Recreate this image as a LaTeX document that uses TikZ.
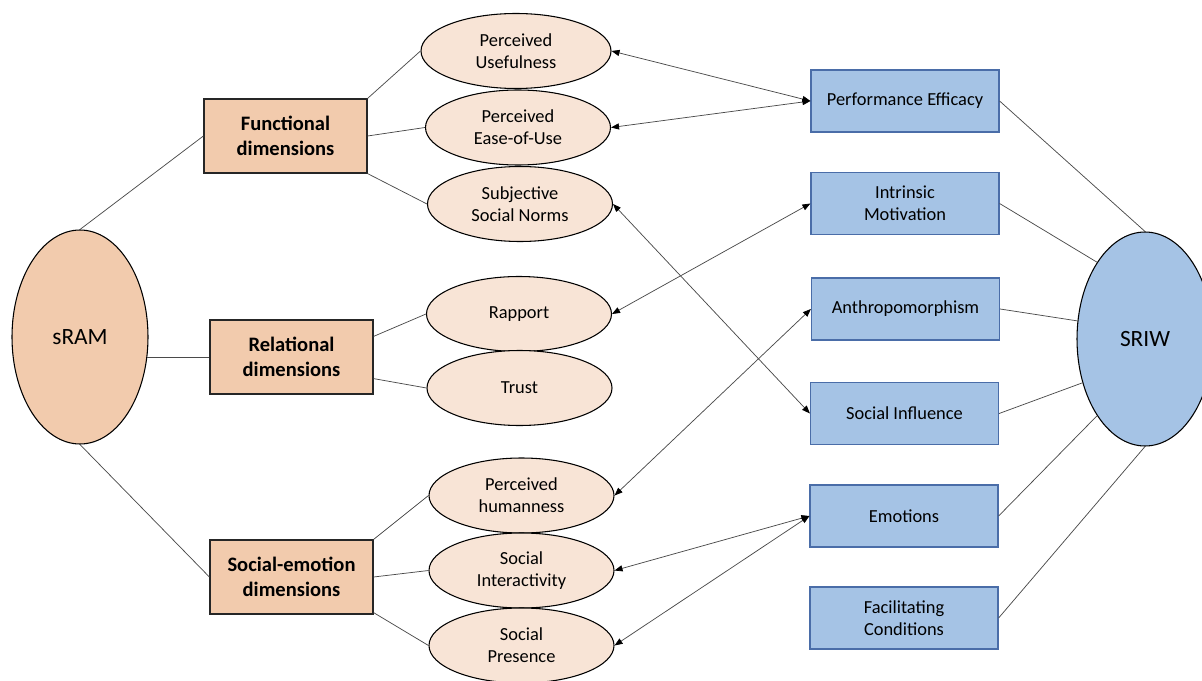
\documentclass[tikz,border=0pt]{standalone}
\usepackage{fontspec}
\setmainfont{Carlito}
\usetikzlibrary{shapes.geometric,arrows.meta,calc}
\definecolor{peach}{HTML}{F2CBAD}
\definecolor{lightpeach}{HTML}{F8E4D6}
\definecolor{skyblue}{HTML}{A5C3E5}
\definecolor{blueedge}{HTML}{4A6DA8}
\definecolor{linkgrey}{HTML}{4A4A4A}
\begin{document}
\begin{tikzpicture}[x=0.75pt,y=-0.75pt,
  base/.style={inner sep=0pt,align=center,font=\fontsize{13.8}{16.5}\selectfont},
  dimbox/.style={base,draw=black!85,line width=0.9pt,fill=peach,minimum width=163*0.75pt,minimum height=74*0.75pt,font=\fontsize{15.4}{18.8}\selectfont\bfseries},
  construct/.style={base,ellipse,draw=black,line width=0.8pt,fill=lightpeach,minimum width=185*0.75pt,minimum height=75*0.75pt},
  factor/.style={base,draw=blueedge,line width=0.9pt,fill=skyblue,minimum width=188*0.75pt,minimum height=62*0.75pt},
  model/.style={base,ellipse,draw=black,line width=0.8pt,minimum width=136*0.75pt,minimum height=214*0.75pt,font=\fontsize{17.5}{20}\selectfont},
  link/.style={draw=linkgrey,line width=0.55pt},
  tipend/.tip={Triangle[length=6pt,width=4.6pt,color=black]},
  biarrow/.style={link,tipend-tipend}]
\useasboundingbox (0,0) rectangle (1202,681);

% models
\node[model,fill=peach] (sram) at (80,337) {sRAM};
\node[model,fill=skyblue] (sriw) at (1145,339) {SRIW};

% dimension groups
\node[dimbox] (fun) at (285.5,136) {Functional\\dimensions};
\node[dimbox] (rel) at (291.5,357) {Relational\\dimensions};
\node[dimbox] (soc) at (291.5,577) {Social-emotion\\dimensions};

% constructs
\node[construct,minimum width=190*0.75pt] (pu) at (516,51) {Perceived\\Usefulness};
\node[construct] (peu) at (518,127.5) {Perceived\\Ease-of-Use};
\node[construct] (ssn) at (520,204) {Subjective\\Social Norms};
\node[construct] (rap) at (519,314) {Rapport};
\node[construct] (tru) at (519.5,388) {Trust};
\node[construct] (hum) at (521.5,495.5) {Perceived\\humanness};
\node[construct] (int) at (521.5,570.5) {Social\\Interactivity};
\node[construct] (pre) at (521.5,645.5) {Social\\Presence};

% factors
\node[factor] (pe) at (905,101) {Performance Efficacy};
\node[factor] (im) at (905,203.5) {Intrinsic\\Motivation};
\node[factor] (an) at (905.5,309) {Anthropomorphism};
\node[factor] (si) at (904.5,413.5) {Social Influence};
\node[factor] (em) at (904,516) {Emotions};
\node[factor] (fc) at (904,618) {Facilitating\\Conditions};

% sRAM to its dimension groups
\draw[link] (sram.north) -- (fun.west);
\draw[link] (sram.-17) -- (sram.-17 -| rel.west);
\draw[link] (sram.south) -- (soc.west);

% dimension groups to constructs
\draw[link] (fun.north east) -- (pu.west);
\draw[link] (fun.east) -- (peu.west);
\draw[link] (fun.south east) -- (ssn.west);
\draw[link] ($(rel.north east)+(0,17)$) -- (rap.west);
\draw[link] ($(rel.south east)+(0,-16)$) -- (tru.west);
\draw[link] (soc.north east) -- (hum.west);
\draw[link] (soc.east) -- (int.west);
\draw[link] ($(soc.south east)+(0,-2)$) -- (pre.west);

% constructs to factors
\draw[biarrow] (pu.east) -- (pe.west);
\draw[biarrow] (peu.east) -- (pe.west);
\draw[biarrow] (ssn.east) -- (si.west);
\draw[biarrow] (rap.east) -- (im.west);
\draw[biarrow] (hum.east) -- (an.west);
\draw[biarrow] (int.east) -- (em.west);
\draw[biarrow] (pre.east) -- (em.west);

% factors to SRIW
\draw[link] (pe.east) -- (sriw.north);
\draw[link] (im.east) -- (sriw.122);
\draw[link] (an.east) -- (sriw.165);
\draw[link] (si.east) -- (sriw.215);
\draw[link] (em.east) -- (sriw.238);
\draw[link] (fc.east) -- (sriw.south);
\end{tikzpicture}
\end{document}
